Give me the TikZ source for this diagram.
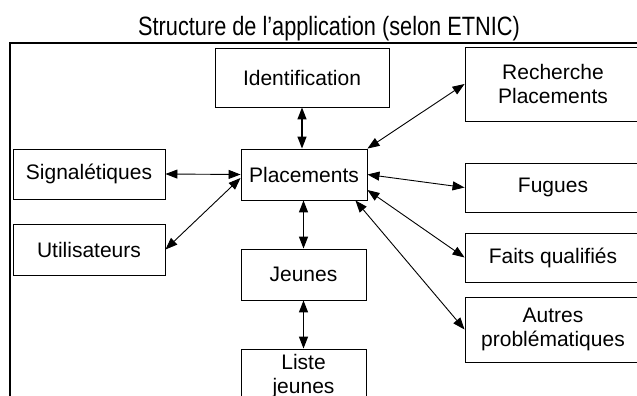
\documentclass[tikz,border=0pt]{standalone}
\usepackage{fontspec}
\setmainfont{Liberation Sans}
\usetikzlibrary{arrows.meta,calc}
\tikzset{
  box/.style={draw,line width=0.9pt,rectangle,inner sep=0pt,align=center,
    font=\fontsize{21}{24}\selectfont},
  link/.style={line width=0.9pt,{Triangle[length=12pt,width=9pt]}-{Triangle[length=12pt,width=9pt]}},
  vlink/.style={link,line width=1.4pt}
}
\begin{document}
\begin{tikzpicture}[x=1pt,y=-1pt]
\useasboundingbox (0,0) rectangle (637,396);
\clip (0,0) rectangle (637,396);
\fill[white] (0,0) rectangle (637,396);
\node[anchor=base,inner sep=0pt,font=\fontsize{26.5}{30}\selectfont] (title) at (329,36)
  {\scalebox{0.82}[1]{Structure de l’application (selon ETNIC)}};
\draw[line width=2.2pt] (650,43) -- (10,43) -- (10,420);
\node[box,minimum width=174pt,minimum height=59pt] (ident) at (302,77.5) {Identification};
\node[box,minimum width=176pt,minimum height=74pt] (rech) at (553,84) {Recherche\\Placements};
\node[box,minimum width=152pt,minimum height=50pt] (sig) at (89,174) {Signalétiques};
\node[box,minimum width=152pt,minimum height=51pt] (util) at (89,249.5) {Utilisateurs};
\node[box,minimum width=126pt,minimum height=51pt] (plac) at (304,174.5) {Placements};
\node[box,minimum width=176pt,minimum height=49pt] (fug) at (553,187.5) {Fugues};
\node[box,minimum width=176pt,minimum height=49pt] (faits) at (553,257.5) {Faits qualifiés};
\node[box,minimum width=176pt,minimum height=65pt] (autres) at (553,329.5) {Autres\\problématiques};
\node[box,minimum width=125pt,minimum height=51pt] (jeunes) at (303.5,274.5) {Jeunes};
\node[box,minimum width=125pt,minimum height=54pt] (liste) at (303.5,376) {Liste\\jeunes};
\draw[vlink] (ident.south) -- (ident.south |- plac.north);
\draw[link] (sig.east) -- (plac.west);
\draw[link] (util.east) -- ($(plac.west)+(0,3.5)$);
\draw[link] (plac.north east) -- (rech.west);
\draw[link] (plac.east) -- (fug.west);
\draw[link] ($(plac.east)+(0,15.5)$) -- (faits.west);
\draw[link] ($(plac.south east)+(-12,0)$) -- (autres.west);
\draw[vlink] (jeunes.north |- plac.south) -- (jeunes.north);
\draw[vlink] (jeunes.south) -- (liste.north);
\end{tikzpicture}
\end{document}
